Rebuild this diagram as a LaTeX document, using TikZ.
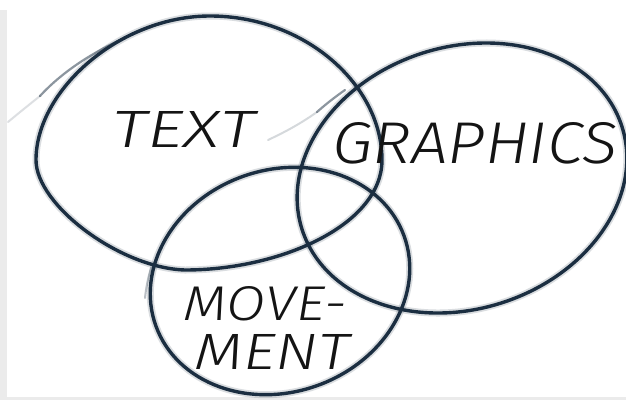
\documentclass[tikz,border=0pt]{standalone}
\usepackage{fontspec}
\setmainfont{Liberation Sans}
\newfontfamily\hand{Fira Sans}[UprightFont=* Light, ItalicFont=* Light Italic]
\definecolor{ink}{HTML}{1B2E41}
\definecolor{frame}{HTML}{EBEBEB}
\begin{document}
\begin{tikzpicture}[x=1pt,y=-1pt,
  loop/.style={draw=ink, line width=3.4pt},
  halo/.style={draw=ink, line width=7pt, opacity=0.16},
  tail/.style={draw=ink, line width=2.2pt, line cap=round},
  word/.style={inner sep=0pt, text=black!92, font=\hand\itshape}]
\useasboundingbox (0,0) rectangle (626,400);
\fill[white] (0,0) rectangle (626,400);
\fill[frame] (0,10) rectangle (7,400);
\fill[frame] (0,397) rectangle (626,400);

% TEXT set: an egg-like free-hand loop
\foreach \s in {halo, loop}{
  \draw[\s] (210,16) .. controls (305,16) and (382,85) .. (382,160)
                     .. controls (382,225) and (280,270) .. (185,270)
                     .. controls (120,268) and (36,205) .. (36,160)
                     .. controls (36,90) and (120,16) .. cycle;
}
% GRAPHICS and MOVEMENT sets: centre, half axes, tilt
\foreach \cx/\cy/\ra/\rb/\tilt in {462/178/168/131/18, 280/281/132/111/20}{
  \draw[halo, rotate around={\tilt:(\cx,\cy)}] (\cx,\cy) ellipse [x radius=\ra, y radius=\rb];
  \draw[loop, rotate around={\tilt:(\cx,\cy)}] (\cx,\cy) ellipse [x radius=\ra, y radius=\rb];
}

% pencil overshoots where the strokes start and end
\draw[tail, opacity=0.5] (40,96) .. controls (62,72) and (100,44) .. (165,22);
\draw[tail, opacity=0.15, line width=2pt] (8,122) .. controls (20,112) and (30,104) .. (40,96);
\draw[tail, opacity=0.5] (345,90) .. controls (335,97) and (326,104) .. (317,112);
\draw[tail, opacity=0.18, line width=2pt] (317,112) .. controls (300,124) and (285,132) .. (268,140);
\draw[tail, opacity=0.3, line width=2pt] (151,268) .. controls (148,278) and (146,288) .. (145,298);

% labels
\node[word] (text) at (184,129) {\resizebox{142pt}{36pt}{TEXT}};
\node[word] (graphics) at (475,143) {\resizebox{285pt}{41pt}{GRAPHICS}};
\node[word] (move) at (265,304) {\resizebox{163pt}{34pt}{MOVE-}};
\node[word] (ment) at (272,352) {\resizebox{155pt}{35pt}{MENT}};
\end{tikzpicture}
\end{document}
